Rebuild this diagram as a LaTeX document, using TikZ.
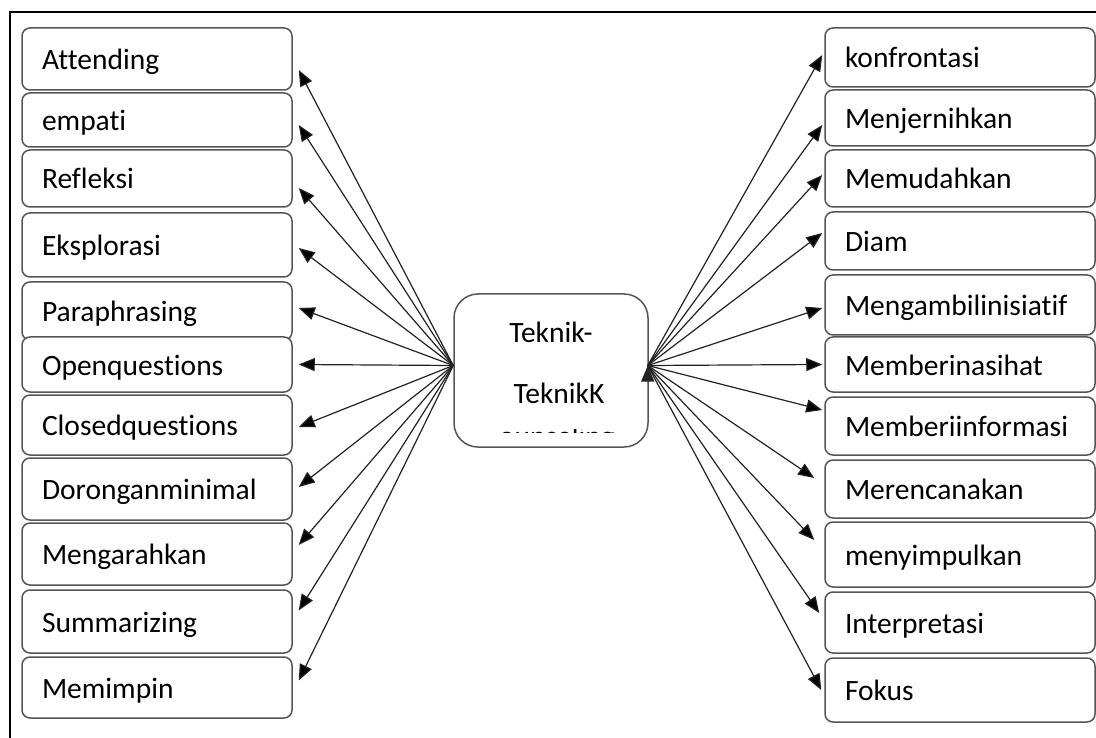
\documentclass[tikz,border=0pt]{standalone}
\usepackage{fontspec}
\setmainfont{Carlito}[Ligatures={NoCommon,NoRequired,NoContextual}]
\usetikzlibrary{arrows.meta}

\definecolor{boxgray}{HTML}{555555}
\definecolor{linegray}{HTML}{222222}

\begin{document}
\begin{tikzpicture}[x=1pt,y=-1pt,
        every node/.style={font=\fontsize{29.5}{35}\selectfont},
        tbox/.style={draw=boxgray, line width=1.5pt, rounded corners=8pt, fill=white,
            text width=230pt, inner xsep=20pt, inner ysep=0pt, align=left,
            text height=25pt, text depth=4pt, minimum height=#1},
        hubbox/.style={draw=boxgray, line width=1.5pt, rounded corners=24pt,
            minimum width=194pt, minimum height=153pt},
        tip/.style={-{Triangle[length=16pt,width=13pt]}, draw=linegray, line width=1.2pt}]
        \clip (0,0) rectangle (1096,738);
        \draw[line width=1.2pt] (10,738) -- (10,12) -- (1096,12);

        % left column
        \node[tbox=62] (attending)    at (157,59)    {Attending};
        \node[tbox=54] (empati)       at (157,120)   {empati};
        \node[tbox=57] (refleksi)     at (157,178.5) {Refleksi};
        \node[tbox=64] (eksplorasi)   at (157,245)   {Eksplorasi};
        \node[tbox=58] (paraphrasing) at (157,311)   {Paraphrasing};
        \node[tbox=55] (openq)        at (157,364.5) {Openquestions};
        \node[tbox=60] (closedq)      at (157,425)   {Closedquestions};
        \node[tbox=62] (dorongan)     at (157,489)   {Doronganminimal};
        \node[tbox=62] (mengarahkan)  at (157,554)   {Mengarahkan};
        \node[tbox=63] (summarizing)  at (157,621.5) {Summarizing};
        \node[tbox=61] (memimpin)     at (157,687.5) {Memimpin};

        % right column
        \node[tbox=59] (konfrontasi)  at (960,57.5)  {konfrontasi};
        \node[tbox=56] (menjernihkan) at (960,118)   {Menjernihkan};
        \node[tbox=57] (memudahkan)   at (960,178.5) {Memudahkan};
        \node[tbox=58] (diam)         at (960,241)   {Diam};
        \node[tbox=60] (inisiatif)    at (960,305)   {Mengambilinisiatif};
        \node[tbox=55] (nasihat)      at (960,364.5) {Memberinasihat};
        \node[tbox=58] (informasi)    at (960,426)   {Memberiinformasi};
        \node[tbox=58] (merencanakan) at (960,489)   {Merencanakan};
        \node[tbox=65] (menyimpulkan) at (960,554.5) {menyimpulkan};
        \node[tbox=61] (interpretasi) at (960,622.5) {Interpretasi};
        \node[tbox=64] (fokus)        at (960,690)   {Fokus};

        % centre
        \node[hubbox] (hub) at (551,370.5) {};
        \node[anchor=base] (hubtop) at (551,342) {Teknik-};
        \node[anchor=base] (hubmid) at (559,403) {TeknikK};
        \begin{scope}
            \clip (490,429) rectangle (620,432);
            \node[anchor=base] (hubbot) at (557,446) {ounseling};
        \end{scope}

        \path[tip]
            ([shift={(0,-5)}]hub.west)
                edge ([shift={(6,11)}]attending.east)
                edge ([shift={(6,5)}]empati.east)
                edge ([shift={(6,9.5)}]refleksi.east)
                edge ([shift={(6,3)}]eksplorasi.east)
                edge ([shift={(6,-3)}]paraphrasing.east)
                edge ([shift={(6,0)}]openq.east)
                edge ([shift={(6,2)}]closedq.east)
                edge ([shift={(6,-2)}]dorongan.east)
                edge ([shift={(6,-9)}]mengarahkan.east)
                edge ([shift={(6,-11)}]summarizing.east)
                edge ([shift={(6,-7)}]memimpin.east)
            ([shift={(-1,-5)}]hub.east)
                edge ([shift={(-2,-2.5)}]konfrontasi.west)
                edge ([shift={(-2,7)}]menjernihkan.west)
                edge ([shift={(-2,-3.5)}]memudahkan.west)
                edge ([shift={(-2,-8)}]diam.west)
                edge ([shift={(-2,3)}]inisiatif.west)
                edge ([shift={(-2,0)}]nasihat.west)
                edge ([shift={(-2,-16)}]informasi.west)
                edge ([shift={(-10,-11)}]merencanakan.west)
                edge ([shift={(-10,-14.5)}]menyimpulkan.west)
                edge ([shift={(-5,-9.5)}]interpretasi.west)
                edge ([shift={(-3,0)}]fokus.west);
    \end{tikzpicture}
\end{document}
